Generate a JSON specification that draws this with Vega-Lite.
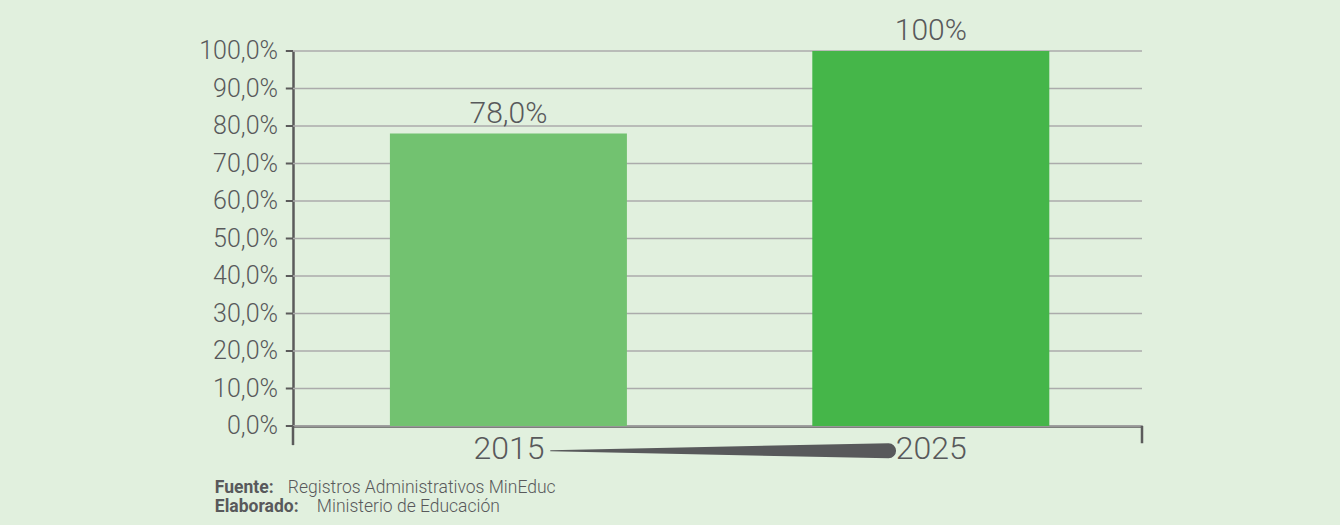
{
  "$schema": "https://vega.github.io/schema/vega-lite/v6.json",
  "width": 849,
  "height": 375,
  "autosize": {"type": "none"},
  "padding": {"left": 293, "top": 51, "right": 198, "bottom": 99},
  "background": "#e1f0de",
  "config": {
    "view": {"stroke": null},
    "font": "Roboto",
    "axisY": {
      "title": null,
      "grid": false,
      "ticks": false,
      "labels": false,
      "domainColor": "#5b5b5b",
      "domainWidth": 2.5
    },
    "axisX": {
      "title": null,
      "grid": false,
      "ticks": false,
      "domainColor": "#5b5b5b",
      "domainWidth": 2.5,
      "labelFontSize": 32,
      "labelFontWeight": 300,
      "labelColor": "#58595b",
      "labelPadding": 7,
      "labelFlush": false,
      "labelOverlap": false,
      "zindex": 1
    }
  },
  "datasets": {
    "barras": [
      {"anio": 2015, "valor": 78, "etiqueta": "78,0%"},
      {"anio": 2025, "valor": 100, "etiqueta": "100%"}
    ],
    "escala": [
      {"marca": 0, "texto": "0,0%"},
      {"marca": 10, "texto": "10,0%"},
      {"marca": 20, "texto": "20,0%"},
      {"marca": 30, "texto": "30,0%"},
      {"marca": 40, "texto": "40,0%"},
      {"marca": 50, "texto": "50,0%"},
      {"marca": 60, "texto": "60,0%"},
      {"marca": 70, "texto": "70,0%"},
      {"marca": 80, "texto": "80,0%"},
      {"marca": 90, "texto": "90,0%"},
      {"marca": 100, "texto": "100,0%"}
    ],
    "cuna": [
      {"anio": 2016, "progreso": 0},
      {"anio": 2024, "progreso": 1}
    ],
    "vacio": [{}]
  },
  "layer": [
    {
      "data": {"name": "escala"},
      "mark": {"type": "rule", "color": "#ababab", "strokeWidth": 1.5},
      "encoding": {
        "y": {"field": "marca", "type": "quantitative", "scale": {"domain": [0, 100], "nice": false, "padding": 0}}
      }
    },
    {
      "data": {"name": "barras"},
      "mark": {"type": "bar", "width": 237},
      "encoding": {
        "x": {
          "field": "anio",
          "type": "quantitative",
          "scale": {"domain": [2009.9, 2030], "nice": false, "zero": false, "padding": 0},
          "axis": {"values": [2015, 2025], "format": "d"}
        },
        "y": {"field": "valor", "type": "quantitative"},
        "color": {
          "field": "anio",
          "type": "nominal",
          "scale": {"range": ["#72c270", "#45b649"]},
          "legend": null
        }
      }
    },
    {
      "data": {"name": "escala"},
      "mark": {"type": "rule", "color": "#5b5b5b", "strokeWidth": 2},
      "encoding": {
        "x": {"datum": 2009.9},
        "x2": {"datum": 2009.73},
        "y": {"field": "marca", "type": "quantitative"}
      }
    },
    {
      "data": {"name": "escala"},
      "mark": {"type": "text", "align": "right", "baseline": "middle", "dx": -15, "fontSize": 25, "fontWeight": 300, "color": "#58595b"},
      "encoding": {
        "x": {"datum": 2009.9},
        "y": {"field": "marca", "type": "quantitative"},
        "text": {"field": "texto"}
      }
    },
    {
      "data": {"name": "barras"},
      "mark": {"type": "text", "dy": -11, "baseline": "alphabetic", "fontSize": 30, "fontWeight": 300, "color": "#58595b"},
      "encoding": {
        "x": {"field": "anio", "type": "quantitative"},
        "y": {"field": "valor", "type": "quantitative"},
        "text": {"field": "etiqueta"}
      }
    },
    {
      "data": {"name": "cuna"},
      "mark": {"type": "trail", "color": "#58595b"},
      "encoding": {
        "x": {"field": "anio", "type": "quantitative"},
        "y": {"datum": -6.6},
        "size": {"field": "progreso", "type": "quantitative", "scale": {"domain": [0, 1], "range": [1, 15]}, "legend": null}
      }
    },
    {
      "data": {"name": "vacio"},
      "mark": {"type": "rule", "color": "#5b5b5b", "strokeWidth": 2.5},
      "encoding": {"x": {"datum": 2009.9}, "y": {"datum": 0}, "y2": {"datum": -5.1}}
    },
    {
      "data": {"name": "vacio"},
      "mark": {"type": "rule", "color": "#5b5b5b", "strokeWidth": 2.5},
      "encoding": {"x": {"datum": 2030}, "y": {"datum": 0}, "y2": {"datum": -4.6}}
    },
    {
      "data": {"name": "vacio"},
      "mark": {"type": "text", "text": "Fuente:", "align": "left", "baseline": "alphabetic", "fontSize": 17.5, "fontWeight": "bold", "color": "#58595b"},
      "encoding": {"x": {"datum": 2008.05}, "y": {"datum": -17.87}}
    },
    {
      "data": {"name": "vacio"},
      "mark": {"type": "text", "text": "Registros Administrativos MinEduc", "align": "left", "dx": 73, "baseline": "alphabetic", "fontSize": 17.5, "fontWeight": 300, "color": "#58595b"},
      "encoding": {"x": {"datum": 2008.05}, "y": {"datum": -17.87}}
    },
    {
      "data": {"name": "vacio"},
      "mark": {"type": "text", "text": "Elaborado:", "align": "left", "baseline": "alphabetic", "fontSize": 17.5, "fontWeight": "bold", "color": "#58595b"},
      "encoding": {"x": {"datum": 2008.05}, "y": {"datum": -22.8}}
    },
    {
      "data": {"name": "vacio"},
      "mark": {"type": "text", "text": "Ministerio de Educación", "align": "left", "dx": 102, "baseline": "alphabetic", "fontSize": 17.5, "fontWeight": 300, "color": "#58595b"},
      "encoding": {"x": {"datum": 2008.05}, "y": {"datum": -22.8}}
    }
  ]
}
